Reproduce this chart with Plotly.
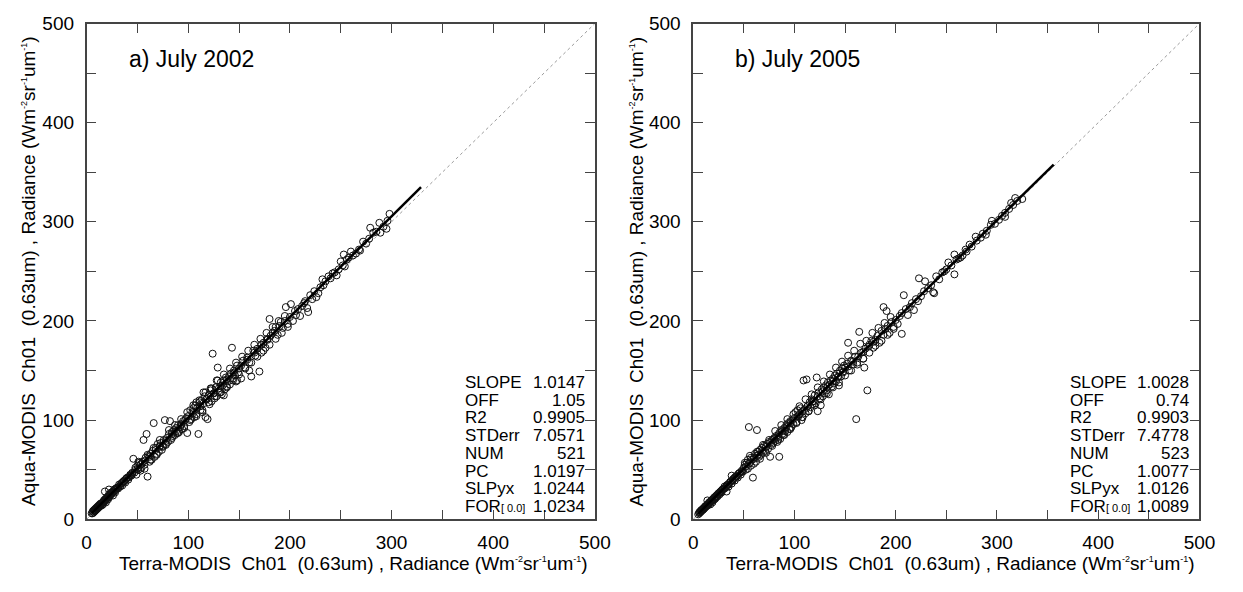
import plotly.graph_objects as go

# ---------------- Panel a) July 2002 ----------------
a_low_x = [5,6,6,7,7,8,8,9,9,10, 10,11,11,12,12,13,13,14,14,15, 15,16,16,17,17,18,18,19,19,20,
           21,21,22,22,23,24,24,25,26,26, 27,28,28,29,30,31,32,33,34,35, 36,37,38,39,40,41,42,43,44,45, 18,22]
a_low_y = [6,6,8,7,9,8,10,9,11,10, 12,11,13,12,14,13,15,14,16,16, 14,17,15,18,19,18,20,21,17,22,
           20,23,22,25,24,25,27,26,28,24, 30,29,27,31,32,31,35,33,36,34, 38,39,37,41,42,40,43,45,44,46, 28,30]
a_mid_x = [46,47,48,49,50,51,52,53,54,55, 56,57,58,59,60,61,62,63,64,65, 66,67,68,69,70,71,72,73,74,75,
           76,77,78,79,80,81,82,83,84,85, 86,87,88,89,90,91,92,93,94,95, 96,97,98,99,
           50,53,57,62,68,72,78,84,88,93]
a_mid_y = [61,47,52,45,54,50,57,49,56,58, 80,51,62,86,43,64,58,66,60,69, 97,63,72,65,76,68,74,77,70,73,
           80,100,75,82,78,86,99,80,88,84, 90,85,92,87,95,88,93,96,91,99, 94,100,102,87,
           51,55,59,63,70,73,79,86,89,95]
a_hi_x = [100,101,102,103,104,105,106,107,108,109, 110,111,112,113,114,115,116,117,118,119,
          120,121,122,123,124,125,126,127,128,129, 130,131,132,133,134,135,136,137,138,139,
          140,141,142,143,144,145,146,147,148,149, 150,152,154,156,158,160,162,164,166,168,
          170,172,174,176,178,
          105,112,118,125,132,138,145,152,158,165,172,178, 108,115,122,128, 135,148,160]
a_hi_y = [104,98,110,101,108,112,103,115,106,113, 86,118,110,120,108,117,124,103,121,101,
          125,116,130,119,167,127,122,133,124,153, 132,128,138,126,135,140,131,143,134,139,
          144,136,147,173,142,150,145,139,155,148, 152,142,160,153,163,158,144,170,165,172,
          149,168,178,173,182,
          107,114,121,127,134,141,148,155,161,168,176,181, 118,128,132,140, 125,140,150]
a_top_x = [180,181,183,185,186,188,190,191,193,195, 196,198,200,201,203,205,206,208,210,212,
           214,215,217,218,220,222,224,226,228,230]
a_top_y = [202,185,188,190,194,186,195,199,193,200, 214,197,204,217,200,210,206,212,205,215,
           218,220,213,209,226,222,230,224,228,234]
a_upper_x = [232,233,235,238,240,242,244,246,248,250, 252,253,254,256,258,260,262,265,268,269,
             272,275,278,279,282,285,288,289,292,295, 296,298]
a_upper_y = [242,236,240,245,243,248,249,246,252,260, 256,267,255,262,264,270,266,268,272,271,
             280,278,283,294,289,290,299,289,295,293, 301,308]
a_band_x = [8,10,12,14,16,19,21,23,25,27, 29,31,33,35,37,39,41,43,45,48, 51,54,57,60,63,66,69,72,75,78,
            81,84,87,90,93,96,99,102,105,108, 111,114,117,120,123,126,129,132,135,138,
            141,144,147,150,153,156,159,162,165,168, 171,174,177,180,183,186,189,192,195,198]
a_band_y = [9,11,13,15,17,20,22,24,27,28, 31,32,34,37,38,41,42,44,47,50, 58,52,55,65,60,72,66,80,74,76,
            90,82,95,87,101,92,108,100,115,104, 120,110,128,118,132,124,140,128,146,133,
            152,140,158,146,164,152,170,158,176,164, 182,170,188,176,194,182,200,188,205,194]

# ---------------- Panel b) July 2005 ----------------
b_low_x = [5,6,6,7,7,8,8,9,9,10, 10,11,11,12,12,13,13,14,14,15, 15,16,16,17,17,18,18,19,19,20,
           21,21,22,22,23,24,24,25,26,26, 27,28,28,29,30,31,32,33,34,35, 36,37,38,39,40,41,42,43,44,45,
           46,47,48,49, 14,33,38]
b_low_y = [5,7,6,8,7,9,8,10,9,11, 10,12,11,13,12,14,13,15,14,16, 15,17,16,18,15,19,18,20,17,21,
           22,20,23,21,24,25,23,26,27,25, 28,29,27,30,31,33,32,34,35,33, 37,38,36,40,41,39,43,44,42,46,
           47,45,49,48, 19,28,44]
b_mid_x = [50,51,52,53,54,55,55,56,57,58, 59,60,61,62,63,63,64,65,66,67, 68,69,70,71,72,73,74,75,76,77,
           78,79,80,81,82,83,84,85,85,86, 87,88,89,90,91,92,93,94,95,96, 97,98,99,
           52,56,60,64,68,72,76,80,84,88,92,96]
b_mid_y = [52,55,50,57,60,93,56,64,54,60, 42,62,66,58,90,64,68,63,70,65, 72,67,74,69,73,76,71,78,63,75,
           80,77,82,79,84,78,83,63,87,81, 90,86,85,92,89,95,88,97,91,99, 93,100,96,
           53,57,61,65,69,73,77,81,85,89,93,97]
b_hi_x = [100,101,102,103,104,105,106,107,108,109, 110,111,112,113,114,115,116,117,118,119,
          120,121,122,123,124,125,126,127,128,129, 130,131,132,133,134,135,136,137,138,139,
          140,141,142,143,144,145,146,147,148,149, 150,152,153,154,156,158,160,161,162,164,
          166,168,169,170,172,174,176,178,
          103,108,113,118,123,128,133,138,143,148,153,158,163,168,173,178]
b_hi_y = [102,108,98,110,104,106,112,100,103,140, 111,107,141,114,109,118,113,121,116,119,
          125,117,143,109,128,122,115,131,124,133, 127,135,130,138,126,136,140,134,142,137,
          145,139,147,143,135,150,144,152,148,155, 153,157,178,150,160,156,164,101,158,189,
          168,162,153,172,130,176,180,173,
          104,109,114,119,124,129,134,139,144,149,154,159,164,169,174,179]
b_top_x = [180,182,184,186,188,188,190,191,192,194, 196,198,200,202,204,206,206,208,210,212,
           214,216,218,220,222,223,225,228,229,232, 235,237,238]
b_top_y = [181,185,178,190,214,186,192,210,195,188, 199,194,201,197,205,187,208,226,212,206,
           214,218,211,222,220,243,225,230,240,233, 236,229,228]
b_upper_x = [240,243,246,248,250,252,255,258,258,260, 262,264,266,269,270,273,275,279,280,284,
             286,289,290,294,295,298,302,305,308,308, 312,314,316,318,320,325]
b_upper_y = [245,242,249,250,252,259,256,247,267,262, 263,264,266,272,270,277,275,285,281,284,
             288,287,291,297,301,298,302,306,305,309, 313,319,317,324,321,323]
b_band_x = [8,10,12,14,16,19,21,23,25,27, 29,31,33,35,37,39,41,43,45,48, 51,54,57,60,63,66,69,72,75,78,
            81,84,87,90,93,96,99,102,105,108, 111,114,117,120,123,126,129,132,135,138,
            141,144,147,150,153,156,159,162,165,168, 171,174,177,180,183,186,189,192,195,198]
b_band_y = [9,10,13,14,17,19,22,23,26,27, 30,31,34,35,38,39,42,43,46,48, 57,51,62,56,68,61,75,67,80,74,
            89,80,95,85,101,91,106,97,114,103, 121,109,126,115,133,121,139,127,146,133,
            153,138,159,145,165,150,170,156,177,162, 180,168,188,175,193,180,198,186,204,192]

stat_labels = ["SLOPE", "OFF", "R2", "STDerr", "NUM", "PC", "SLPyx", "FOR"]
stats_a = ["1.0147", "1.05", "0.9905", "7.0571", "521", "1.0197", "1.0244", "1.0234"]
stats_b = ["1.0028", "0.74", "0.9903", "7.4778", "523", "1.0077", "1.0126", "1.0089"]
fit_a = dict(slope=1.0147, off=1.05, x0=5, x1=329)
fit_b = dict(slope=1.0028, off=0.74, x0=5, x1=356)
titles = ["a) July 2002", "b) July 2005"]
tick_vals = list(range(0, 501, 50))
tick_text = [str(v) if v % 100 == 0 else "" for v in tick_vals]


def pairs(*lists):
    xs, ys = [], []
    for lx, ly in zip(lists[0::2], lists[1::2]):
        n = min(len(lx), len(ly))
        xs += lx[:n]
        ys += ly[:n]
    return xs, ys


xa, ya = pairs(a_low_x, a_low_y, a_mid_x, a_mid_y, a_hi_x, a_hi_y, a_top_x, a_top_y,
               a_upper_x, a_upper_y, a_band_x, a_band_y)
xb, yb = pairs(b_low_x, b_low_y, b_mid_x, b_mid_y, b_hi_x, b_hi_y, b_top_x, b_top_y,
               b_upper_x, b_upper_y, b_band_x, b_band_y)

FONT = "Liberation Sans, Arial, Helvetica, sans-serif"
W, H = 1243, 592


def px(v):      # window x-pixel -> paper fraction
    return v / W


def py(v):      # window y-pixel (from top) -> paper fraction
    return 1 - v / H


fig = go.Figure()
panels = [("x", "y", xa, ya, fit_a), ("x2", "y2", xb, yb, fit_b)]
for xr, yr, xs, ys, fit in panels:
    fig.add_trace(go.Scatter(x=[0, 500], y=[0, 500], mode="lines", xaxis=xr, yaxis=yr,
                             line=dict(color="#9a9a9a", width=1, dash="dot"),
                             showlegend=False, hoverinfo="skip"))
    fig.add_trace(go.Scatter(x=xs, y=ys, mode="markers", xaxis=xr, yaxis=yr,
                             marker=dict(symbol="circle-open", size=7, color="#111",
                                         line=dict(width=1, color="#111")),
                             showlegend=False))
    fx = [fit["x0"], fit["x1"]]
    fy = [fit["slope"] * v + fit["off"] for v in fx]
    fig.add_trace(go.Scatter(x=fx, y=fy, mode="lines", xaxis=xr, yaxis=yr,
                             line=dict(color="black", width=2.5),
                             showlegend=False, hoverinfo="skip"))

axis_common = dict(range=[0, 500], tickvals=tick_vals, ticktext=tick_text,
                   ticks="inside", ticklen=10, tickwidth=1, tickcolor="#444",
                   showline=True, linecolor="#444", linewidth=1.5, mirror="ticks",
                   showgrid=False, zeroline=False,
                   tickfont=dict(family=FONT, size=19, color="black"))

ydom = [py(528), py(14)]
xdom_a = [px(83), px(600)]
xdom_b = [px(700), px(1215)]

fig.update_layout(
    width=W, height=H, autosize=False, margin=dict(l=0, r=0, t=0, b=0, pad=0),
    paper_bgcolor="white", plot_bgcolor="white",
    xaxis=dict(domain=xdom_a, anchor="y", ticklabelstandoff=5, **axis_common),
    yaxis=dict(domain=ydom, anchor="x", ticklabelstandoff=7, **axis_common),
    xaxis2=dict(domain=xdom_b, anchor="y2", ticklabelstandoff=5, **axis_common),
    yaxis2=dict(domain=ydom, anchor="x2", ticklabelstandoff=7, **axis_common),
)


def tiny(s):
    return "<sup><span style='font-size:9px'>" + s + "</span></sup>"


sup = "(Wm" + tiny("-2") + "sr" + tiny("-1") + "um" + tiny("-1") + ")"
ytitle = "Aqua-MODIS  Ch01  (0.63um) , Radiance " + sup
xtitle = "Terra-MODIS  Ch01  (0.63um) , Radiance " + sup
ann = []
ymid = (ydom[0] + ydom[1]) / 2
setup = [(354, 24, "x", "y", stats_a), (972, 642, "x2", "y2", stats_b)]
for i, (xt_c, yt_c, xr, yr, st) in enumerate(setup):
    ann.append(dict(text=xtitle, xref="paper", yref="paper", x=px(xt_c), y=py(574),
                    xanchor="center", yanchor="middle", showarrow=False,
                    font=dict(family=FONT, size=19, color="black")))
    ann.append(dict(text=ytitle, xref="paper", yref="paper", x=px(yt_c), y=ymid,
                    xanchor="center", yanchor="middle", textangle=-90, showarrow=False,
                    font=dict(family=FONT, size=19, color="black")))
    ann.append(dict(text=titles[i], xref=xr, yref=yr, x=39.5, y=464, xanchor="left",
                    yanchor="middle", showarrow=False,
                    font=dict(family=FONT, size=23, color="black")))
    for j, lab in enumerate(stat_labels):
        yv = 138.1 - 17.9 * j
        txt = lab if lab != "FOR" else "FOR<span style='font-size:11px'>[ 0.0]</span>"
        ann.append(dict(text=txt, xref=xr, yref=yr, x=370, y=yv, xanchor="left",
                        yanchor="middle", showarrow=False,
                        font=dict(family=FONT, size=17, color="black")))
        ann.append(dict(text=st[j], xref=xr, yref=yr, x=492, y=yv, xanchor="right",
                        yanchor="middle", showarrow=False,
                        font=dict(family=FONT, size=17, color="black")))
fig.update_layout(annotations=ann)

fig.write_html("out.html")
